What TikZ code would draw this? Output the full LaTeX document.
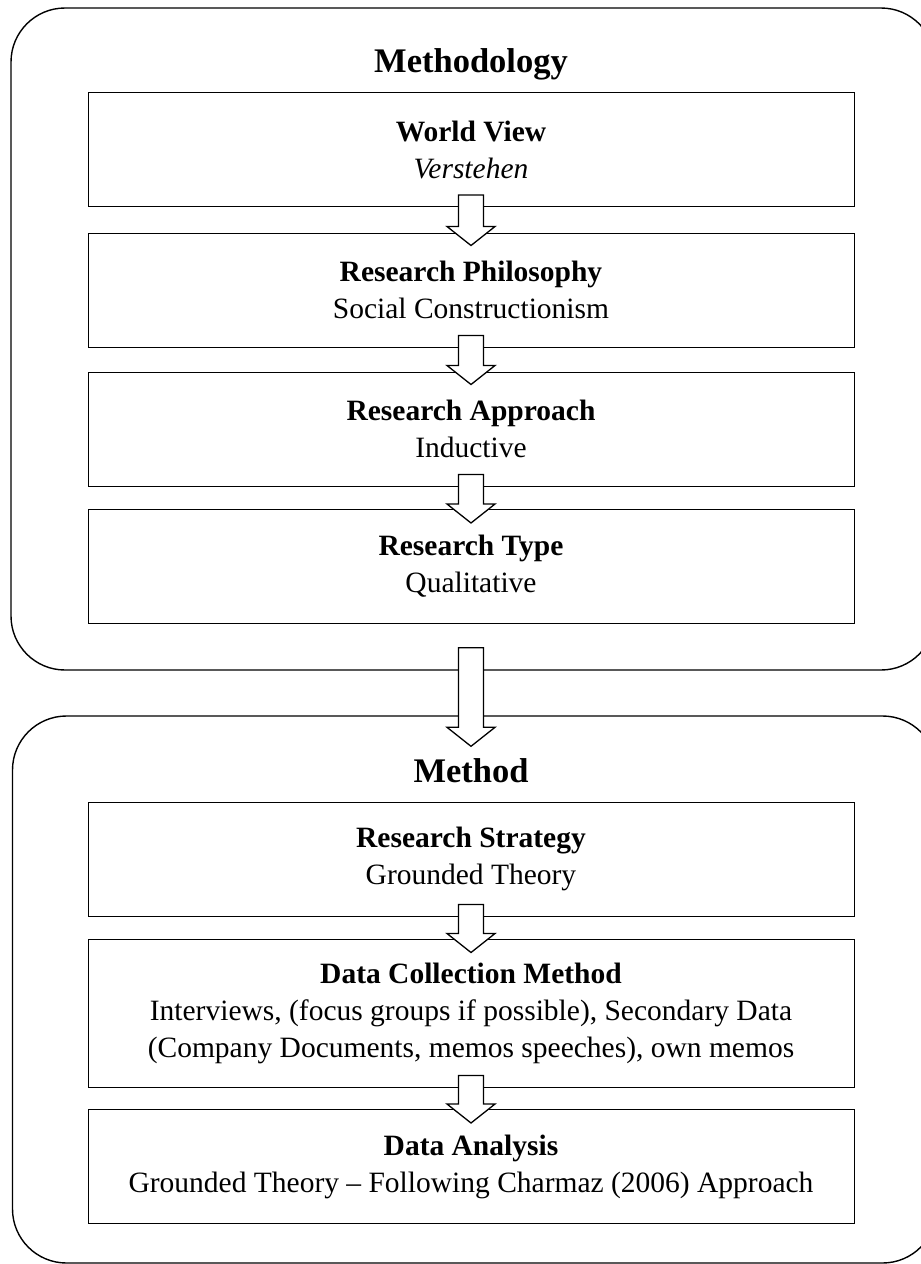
\documentclass[tikz,border=0pt]{standalone}
\usepackage{fontspec}
\setmainfont{Liberation Serif}
\usetikzlibrary{positioning,calc}

\tikzset{
  panel/.style={draw, rounded corners=54pt, line width=1.4pt, inner sep=0pt, minimum width=924},
  paneltitle/.style={anchor=base, font=\fontsize{34.5}{40}\selectfont\bfseries},
  stagebox/.style={draw, line width=1pt, inner sep=0pt, minimum width=766, minimum height=114,
    align=center, font=\fontsize{29.5}{37}\selectfont},
  flowarrow/.style={draw, fill=white, line width=1.3pt, line join=miter}
}

% block arrow from point #1 to point #2, reaching #3 up from #1 and #4 down past #2
\newcommand{\blockarrow}[4]{%
  \draw[flowarrow] ($#1+(-12.5,-#3)$) -- ($#2+(-12.5,#4-19)$)
    -- ++(-11.5,0) -- ($#2+(0,#4)$) -- ($#2+(24,#4-19)$)
    -- ++(-11.5,0) -- ($#1+(12.5,-#3)$) -- cycle;}

\begin{document}
\begin{tikzpicture}[x=1pt, y=-1pt]
    \useasboundingbox (0,0) rectangle (921,1264);
    \clip (0,0) rectangle (921,1264);

    % Methodology
    \node[panel, minimum height=662] (methodology) at (473,339) {};
    \node[paneltitle] (methodologytitle) at (471,72) {Methodology};

    \node[stagebox] (worldview) at (471,149.5) {\textbf{World View}\\\textit{Verstehen}};
    \node[stagebox] (philosophy) at (471,290) {\textbf{Research Philosophy}\\Social Constructionism};
    \node[stagebox] (approach) at (471,429) {\textbf{Research Approach}\\Inductive};
    \node[stagebox] (type) at (471,566.5) {\textbf{Research Type}\\Qualitative};

    \blockarrow{(worldview.south)}{(philosophy.north)}{12}{13}
    \blockarrow{(philosophy.south)}{(approach.north)}{12}{13}
    \blockarrow{(approach.south)}{(type.north)}{12}{14}

    % Method
    \node[panel, minimum height=547] (method) at (474.5,989.5) {};
    \node[paneltitle] (methodtitle) at (471,782) {Method};

    \node[stagebox] (strategy) at (471,859) {\textbf{Research Strategy}\\Grounded Theory};
    \node[stagebox, minimum height=148] (collection) at (471,1013) {\textbf{Data Collection Method}\\Interviews, (focus groups if possible), Secondary Data\\(Company Documents, memos speeches), own memos};
    \node[stagebox] (analysis) at (471,1166.5) {\textbf{Data Analysis}\\Grounded Theory -- Following Charmaz (2006) Approach};

    \blockarrow{(strategy.south)}{(collection.north)}{12}{14}
    \blockarrow{(collection.south)}{(analysis.north)}{12}{14}

    % from methodology to method
    \blockarrow{(type.south |- methodology.south)}{(type.south |- method.north)}{23}{31}
\end{tikzpicture}
\end{document}
